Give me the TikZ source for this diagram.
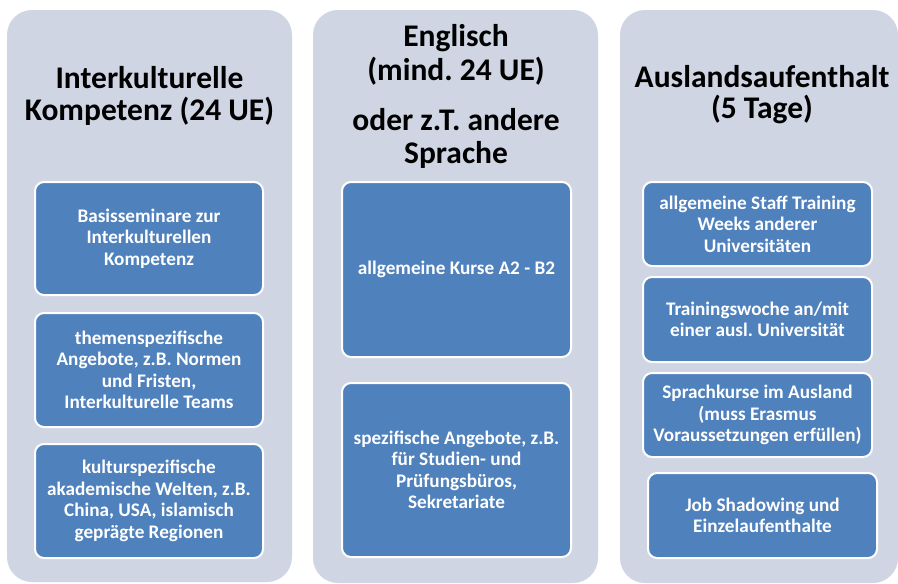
\documentclass[tikz,border=0pt]{standalone}
\usepackage{fontspec}
\setmainfont{Carlito}
\frenchspacing
\definecolor{outerbg}{RGB}{207,213,227}
\definecolor{innerblue}{RGB}{79,129,189}
\begin{document}
\begin{tikzpicture}[x=1pt,y=-1pt,
  column/.style={draw=none, fill=outerbg, rounded corners=25pt, inner sep=0pt},
  item/.style={draw=white, line width=2pt, fill=innerblue, rounded corners=9pt, text=white,
    font=\fontsize{19.2}{21.5}\selectfont\bfseries, align=center, inner sep=0pt},
  title/.style={font=\fontsize{31.5}{33}\selectfont\bfseries, anchor=base, inner sep=0pt}]
\useasboundingbox (0,0) rectangle (898,584);
\fill[white] (0,0) rectangle (898,584);
% columns
\node[column, minimum width=285pt, minimum height=572pt] (c1) at (149.5,296) {};
\node[column, minimum width=285pt, minimum height=573pt] (c2) at (455.5,296.5) {};
\node[column, minimum width=278pt, minimum height=573pt] (c3) at (759,296.5) {};
% titles
\node[title] (t1a) at (149.5,88) {Interkulturelle};
\node[title] (t1b) at (149.5,120) {Kompetenz (24 UE)};
\node[title] (t2a) at (456,46) {Englisch};
\node[title] (t2b) at (456,80) {(mind. 24 UE)};
\node[title] (t2c) at (456,130) {oder z.T. andere};
\node[title] (t2d) at (456,163) {Sprache};
\node[title] (t3a) at (762,87) {Auslandsaufenthalt};
\node[title] (t3b) at (762,118) {(5 Tage)};
% items column 1
\node[item, minimum width=228pt, minimum height=113pt] (a1) at (149,238.5) {Basisseminare zur\\Interkulturellen\\Kompetenz};
\node[item, minimum width=228pt, minimum height=114pt] (a2) at (149,370) {themenspezifische\\Angebote, z.B. Normen\\und Fristen,\\Interkulturelle Teams};
\node[item, minimum width=228pt, minimum height=114pt] (a3) at (149,501) {kulturspezifische\\akademische Welten, z.B.\\China, USA, islamisch\\geprägte Regionen};
% items column 2
\node[item, minimum width=229pt, minimum height=175pt] (b1) at (456.5,269.5) {allgemeine Kurse A2 - B2};
\node[item, minimum width=229pt, minimum height=174pt] (b2) at (456.5,470) {spezifische Angebote, z.B.\\für Studien- und\\Prüfungsbüros,\\Sekretariate};
% items column 3
\node[item, minimum width=229pt, minimum height=84pt] (d1) at (757.5,224) {allgemeine Staff Training\\Weeks anderer\\Universitäten};
\node[item, minimum width=229pt, minimum height=85pt] (d2) at (757.5,319.5) {Trainingswoche an/mit\\einer ausl. Universität};
\node[item, minimum width=229pt, minimum height=84pt] (d3) at (757.5,415) {Sprachkurse im Ausland\\(muss Erasmus\\Voraussetzungen erfüllen)};
\node[item, minimum width=229pt, minimum height=85pt] (d4) at (762.5,515.5) {Job Shadowing und\\Einzelaufenthalte};
\end{tikzpicture}
\end{document}
